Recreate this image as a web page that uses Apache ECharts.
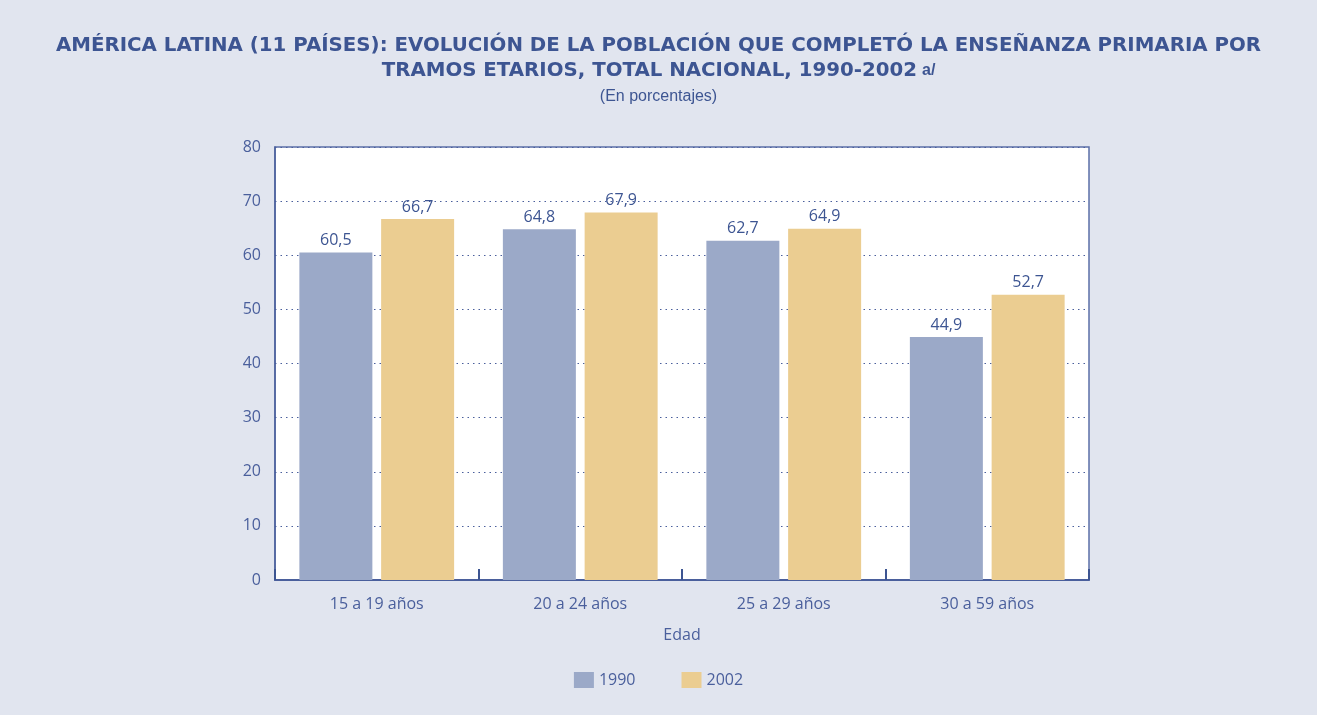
<!DOCTYPE html>
<html>
<head>
<meta charset="utf-8">
<script src="https://cdn.jsdelivr.net/npm/echarts@6/dist/echarts.min.js"></script>
<style>
  html, body { margin: 0; padding: 0; background: #e1e5ef; }
  #chart { width: 1317px; height: 715px; }
</style>
</head>
<body>
<div id="chart"></div>
<script>
// datos
var categorias = ['15 a 19 años', '20 a 24 años', '25 a 29 años', '30 a 59 años'];
var serie1990 = [60.5, 64.8, 62.7, 44.9];
var serie2002 = [66.7, 67.9, 64.9, 52.7];
var ejeY = { min: 0, max: 80, interval: 10 };

var azul = '#3d5592';
var textoEje = '#4a5f9c';

var chart = echarts.init(document.getElementById('chart'));

// etiqueta con coma decimal
function coma(p) {
  return p.value.toFixed(1).replace('.', ',');
}

function barra(nombre, datos, color) {
  return {
    name: nombre,
    type: 'bar',
    data: datos,
    barWidth: 73,
    barGap: '12%',
    itemStyle: { color: color },
    label: {
      show: true,
      position: 'top',
      distance: 4,
      formatter: coma,
      color: azul,
      fontFamily: 'Open Sans',
      fontSize: 16
    }
  };
}

var tituloRich = {
  b: { fontFamily: 'DejaVu Sans', fontWeight: 'bold', fontSize: 19.8, color: azul, lineHeight: 24 },
  r: { fontFamily: 'Liberation Sans', fontSize: 16, color: azul, lineHeight: 24 }
};

chart.setOption({
  backgroundColor: '#e1e5ef',
  title: [{
    left: 'center',
    top: 29,
    text: '{b|AMÉRICA LATINA (11 PAÍSES): EVOLUCIÓN DE LA POBLACIÓN QUE COMPLETÓ LA ENSEÑANZA PRIMARIA POR}',
    textStyle: { rich: tituloRich }
  }, {
    left: 'center',
    top: 54,
    text: '{b|TRAMOS ETARIOS, TOTAL NACIONAL, 1990-2002} {r|a/}',
    textStyle: { rich: tituloRich }
  }, {
    left: 'center',
    top: 84,
    text: '(En porcentajes)',
    textStyle: { fontFamily: 'Liberation Sans', fontWeight: 'normal', fontSize: 16, color: azul }
  }],
  legend: {
    bottom: 22,
    left: 'center',
    itemWidth: 20,
    itemHeight: 16,
    itemGap: 46,
    icon: 'rect',
    textStyle: { fontFamily: 'Open Sans', fontSize: 16, color: textoEje },
    data: ['1990', '2002']
  },
  grid: {
    left: 275,
    right: 228,
    top: 147,
    bottom: 135,
    show: true,
    backgroundColor: '#ffffff',
    borderColor: '#5b6fa8',
    borderWidth: 1.5
  },
  xAxis: {
    type: 'category',
    data: categorias,
    name: 'Edad',
    nameLocation: 'middle',
    nameGap: 47,
    nameTextStyle: { fontFamily: 'Open Sans', fontSize: 16, color: textoEje },
    axisLine: { lineStyle: { color: '#4a5f9c', width: 2 } },
    axisTick: { show: true, interval: 0, alignWithLabel: false, inside: true, length: 11, lineStyle: { color: '#3d5592', width: 2 } },
    axisLabel: { margin: 16, fontFamily: 'Open Sans', fontSize: 16, color: textoEje }
  },
  yAxis: {
    type: 'value',
    min: ejeY.min,
    max: ejeY.max,
    interval: ejeY.interval,
    axisLine: { show: true, lineStyle: { color: '#4a5f9c', width: 1.5 } },
    axisTick: { show: false },
    axisLabel: { margin: 14, fontFamily: 'Open Sans', fontSize: 16, color: textoEje },
    splitLine: { lineStyle: { color: '#4a5f9c', type: [1.5, 4], width: 1 } }
  },
  series: [
    barra('1990', serie1990, '#9ba9c8'),
    barra('2002', serie2002, '#ebcd91')
  ]
});
</script>
</body>
</html>
